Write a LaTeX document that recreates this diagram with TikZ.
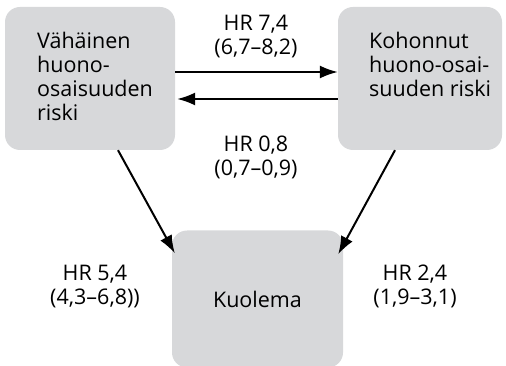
\documentclass[tikz,border=0pt]{standalone}
\usepackage{fontspec}
\setmainfont{Open Sans}
\usetikzlibrary{arrows.meta}
\definecolor{boxgray}{RGB}{215,216,218}
\tikzset{
  state/.style={fill=boxgray, rounded corners=15pt, inner sep=0pt},
  statetext/.style={anchor=north west, align=left, inner sep=0pt},
  hrlabel/.style={align=center, inner sep=0pt},
  trans/.style={line width=2pt, -{Latex[length=18pt,width=13pt]}},
}
\begin{document}
\begin{tikzpicture}[x=1pt, y=-1pt, font=\fontsize{21.5}{24}\selectfont]
	\useasboundingbox (0,0) rectangle (506,366);
	% the three states
	\node[state, minimum width=170pt, minimum height=143pt] (low) at (90,78.5) {};
	\node[state, minimum width=164pt, minimum height=143pt] (high) at (420,78.5) {};
	\node[state, minimum width=171pt, minimum height=137pt] (death) at (257.5,299) {Kuolema};
	\node[statetext] (lowtext) at (37,32) {Vähäinen\\huono-\\osaisuuden\\riski};
	\node[statetext] (hightext) at (369,32) {Kohonnut\\huono-osai-\\suuden riski};
	% transitions between the risk states
	\draw[trans] ([yshift=6.5pt]low.east) -- ([yshift=6.5pt]high.west);
	\draw[trans] ([yshift=-20.5pt]high.west) -- ([yshift=-20.5pt,xshift=2pt]low.east);
	% transitions to death
	\draw[trans] ([xshift=28pt]low.south) -- ([xshift=3pt,yshift=-23pt]death.north west);
	\draw[trans] ([xshift=-25pt]high.south) -- ([xshift=-5pt,yshift=-24pt]death.north east);
	% hazard ratios
	\node[hrlabel] (hrup) at (256,36.5) {HR 7,4\\(6,7–8,2)};
	\node[hrlabel] (hrdown) at (256,157) {HR 0,8\\(0,7–0,9)};
	\node[hrlabel] (hrlow) at (95,286.5) {HR 5,4\\(4,3–6,8))};
	\node[hrlabel] (hrhigh) at (415,286.5) {HR 2,4\\(1,9–3,1)};
\end{tikzpicture}
\end{document}
